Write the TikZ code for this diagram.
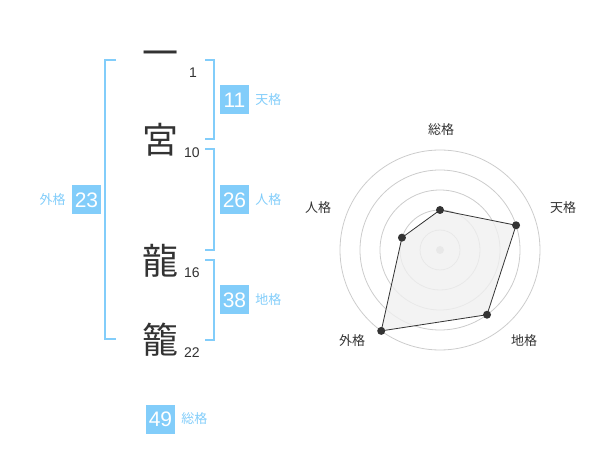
\documentclass[tikz,border=0pt]{standalone}
\usepackage{fontspec}
\setmainfont{Liberation Sans}
\newfontfamily\cjk{Noto Sans CJK JP}
\usetikzlibrary{positioning, calc}
\definecolor{skyport}{HTML}{82CDFA}
\definecolor{inkport}{HTML}{333333}
\definecolor{ringport}{HTML}{CCCCCC}
\definecolor{areaport}{HTML}{F0F0F0}

\tikzset{
	kanji/.style={inkport, font=\cjk\fontsize{36}{36}\selectfont, inner sep=0pt},
	stroke/.style={inkport, font=\fontsize{14}{14}\selectfont, inner sep=0pt},
	score/.style={fill=skyport, text=white, minimum size=29pt, inner sep=0pt, font=\fontsize{21}{21}\selectfont},
	kaku/.style={skyport, font=\cjk\fontsize{13}{13}\selectfont, inner sep=0pt},
	axis/.style={inkport, font=\cjk\fontsize{13}{13}\selectfont, inner sep=0pt},
	bracket/.style={skyport, line width=2pt},
	dot/.style={circle, fill=inkport, inner sep=0pt, minimum size=8pt}
}

\begin{document}
\begin{tikzpicture}[x=1pt, y=-1pt]
	\useasboundingbox (0, 0) rectangle (600, 470);

	% name characters and stroke counts
	\node[kanji] (c1) at (160, 59) {一};
	\node[kanji] (c2) at (160, 140) {宮};
	\node[kanji] (c3) at (160, 261) {龍};
	\node[kanji] (c4) at (160, 340) {籠};
	\node[stroke] (n1) at (193, 73) {1};
	\node[stroke] (n2) at (192, 153) {10};
	\node[stroke] (n3) at (192, 273) {16};
	\node[stroke] (n4) at (192, 353) {22};

	% brackets
	\draw[bracket] (116, 60) -- (105, 60) -- (105, 339) -- (116, 339);
	\draw[bracket] (205, 60) -- (214, 60) -- (214, 139) -- (205, 139);
	\draw[bracket] (205, 149) -- (214, 149) -- (214, 250) -- (205, 250);
	\draw[bracket] (205, 260) -- (214, 260) -- (214, 340) -- (205, 340);

	% scores
	\node[score] (ten) at (234.5, 100) {11};
	\node[kaku, right=6pt of ten] {天格};
	\node[score] (jin) at (234.5, 200) {26};
	\node[kaku, right=6pt of jin] {人格};
	\node[score] (chi) at (234.5, 300) {38};
	\node[kaku, right=6pt of chi] {地格};
	\node[score] (gai) at (86.5, 200) {23};
	\node[kaku, left=6pt of gai] {外格};
	\node[score] (sou) at (160.5, 419) {49};
	\node[kaku, right=6pt of sou] {総格};

	% radar chart
	\foreach \r in {20, 40, 60, 80, 100}
		\draw[ringport, line width=0.8pt] (440, 250) circle (\r);
	\fill[ringport] (440, 250) circle (4);

	\coordinate (psou) at ($(440, 250) + (-90:40)$);
	\coordinate (pten) at ($(440, 250) + (-18:80)$);
	\coordinate (pchi) at ($(440, 250) + (54:80)$);
	\coordinate (pgai) at ($(440, 250) + (126:100)$);
	\coordinate (pjin) at ($(440, 250) + (-162:40)$);
	\filldraw[fill=areaport, fill opacity=0.8, draw=inkport, line width=0.8pt]
		(psou) -- (pten) -- (pchi) -- (pgai) -- (pjin) -- cycle;
	\foreach \p in {psou, pten, pchi, pgai, pjin}
		\node[dot] at (\p) {};

	\node[axis] (lsou) at (441, 130) {総格};
	\node[axis] (lten) at (563, 208) {天格};
	\node[axis] (lchi) at (524, 341) {地格};
	\node[axis] (lgai) at (352, 341) {外格};
	\node[axis] (ljin) at (318, 208) {人格};
\end{tikzpicture}
\end{document}
